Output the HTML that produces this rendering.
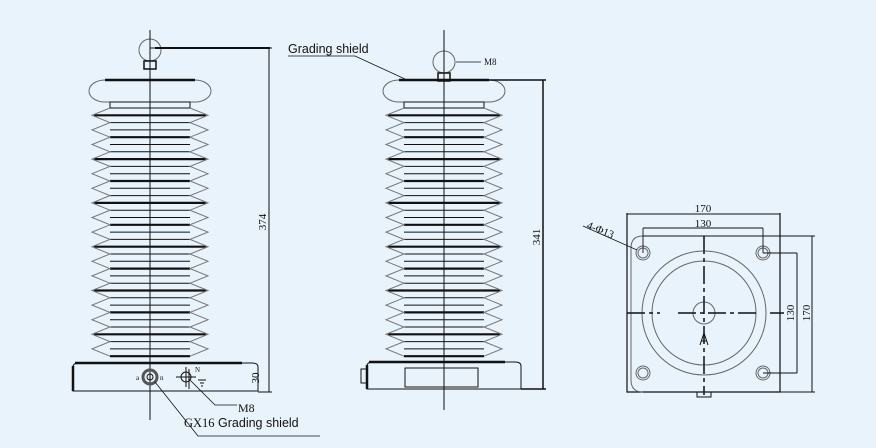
<!DOCTYPE html>
<html><head><meta charset="utf-8"><style>
html,body{margin:0;padding:0;background:#e9f3fc;}
svg{display:block;}
text{font-family:"Liberation Sans",sans-serif;fill:#111;}
.s{font-family:"Liberation Serif",serif;}
</style></head><body>
<svg id="d" width="876" height="448" viewBox="0 0 876 448" xmlns="http://www.w3.org/2000/svg">
<rect width="876" height="448" fill="#e9f3fc"/>
<g id="ins" fill="none" stroke="#111" stroke-width="1"></g>
<g fill="none" stroke="#111">
<path d="M150 48H272M269 48V392M258 392H272M150 30V420M444 30V410"/>
<path d="M443 80H546M543 80V389M521 389H546" stroke-width="1.5"/>
<path d="M155 48H270" stroke-width="2"/>
</g>
<text transform="translate(266,222) rotate(-90)" font-size="11" class="s" text-anchor="middle">374</text>
<text transform="translate(259,378) rotate(-90)" font-size="11" class="s" text-anchor="middle">30</text>
<text transform="translate(540,237) rotate(-90)" font-size="11" class="s" text-anchor="middle">341</text>
<text x="288" y="53" font-size="12.5">Grading shield</text>
<path d="M288 56H355L405 79" fill="none" stroke="#111" stroke-width="0.8"/>
<path d="M456 62H481" stroke="#111" stroke-width="0.8"/>
<text x="484" y="65" font-size="9" class="s">M8</text>
<g fill="none" stroke="#111">
<circle cx="150" cy="377" r="7" stroke-width="3" stroke="#555"/>
<circle cx="150" cy="377" r="3"/>
<circle cx="186" cy="377" r="5"/>
<path d="M176 377H196M186 367V387M189 369V389" />
<path d="M155 382L198 436H320M190 380L215 405H237" stroke-width="0.8"/>
<path d="M198 380H206M200 383H204M201 386H203"/>
</g>
<text x="136" y="380" font-size="7" class="s">a</text>
<text x="160" y="380" font-size="7" class="s">n</text>
<text x="195" y="372" font-size="7" class="s">N</text>
<text x="238" y="412" font-size="12" class="s">M8</text>
<text x="184" y="427" font-size="12.5"><tspan class="s">GX16</tspan> Grading shield</text>
<g fill="none" stroke="#111">
<rect x="405" y="368" width="73" height="19"/>
<rect x="361" y="369" width="6" height="14"/>
</g>
<g fill="none" stroke="#111">
<path d="M627 213V392H780V213" stroke-width="1.2"/>
<path d="M643 236H780M780 236V392" />
<path d="M643 236Q631 236 631 248V380Q631 392 643 392" stroke="#666"/>
<circle cx="704" cy="313" r="62" stroke="#666"/>
<circle cx="704" cy="313" r="52" stroke="#666"/>
<circle cx="704" cy="313" r="11" stroke="#666"/>
<g stroke="#666">
<circle cx="643" cy="253" r="7"/><circle cx="643" cy="253" r="5"/>
<circle cx="763" cy="253" r="7"/><circle cx="763" cy="253" r="5"/>
<circle cx="643" cy="373" r="7"/><circle cx="643" cy="373" r="5"/>
<circle cx="763" cy="373" r="7"/><circle cx="763" cy="373" r="5"/>
</g>
<path d="M704 236V395M627 313H660M678 313H760M770 313H784" stroke-width="1.5" stroke-dasharray="18 4 4 4"/>
<path d="M627 214H780M643 228H763M643 228V253M763 228V253" stroke-width="0.9"/>
<path d="M763 253H797M763 373H797M797 253V373M780 236H815M780 392H815M812 236V392"/>
<path d="M697 392V397H711V392"/>
<path d="M700 345L704 333L708 345M701 341H707"/>
<path d="M583 226L637 250" stroke-width="0.8"/>
</g>
<text x="703" y="212" font-size="11" class="s" text-anchor="middle">170</text>
<text x="703" y="227" font-size="11" class="s" text-anchor="middle">130</text>
<text transform="translate(794,313) rotate(-90)" font-size="11" class="s" text-anchor="middle">130</text>
<text transform="translate(810,313) rotate(-90)" font-size="11" class="s" text-anchor="middle">170</text>
<text transform="translate(586,228) rotate(22)" font-size="11" class="s">4-Φ13</text>
</svg>
<script>
var g=document.getElementById('ins');var h='';
function ins(cx,ballY,baseL,baseR,baseT,baseB){
 h+='<circle cx="'+cx+'" cy="'+ballY+'" r="11" stroke="#666"/>';
 h+='<rect x="'+(cx-6)+'" y="'+(ballY+11)+'" width="12" height="8" stroke-width="1.5"/>';
 h+='<path d="M'+(cx-45)+' 80H'+(cx+45)+'A16 11 0 0 1 '+(cx+45)+' 102H'+(cx-45)+'A16 11 0 0 1 '+(cx-45)+' 80Z" stroke="#666"/>';
 h+='<path d="M'+(cx-45)+' 80H'+(cx+45)+'" stroke-width="2.5"/>';
 h+='<rect x="'+(cx-40)+'" y="102" width="80" height="6"/>';
 var y=108,p=14.6,L='M'+(cx-40)+' '+y,R='M'+(cx+40)+' '+y,i=0;
 while(y+p<=364){
  L+=' L'+(cx-58)+' '+(y+p/2)+' L'+(cx-40)+' '+(y+p);
  R+=' L'+(cx+58)+' '+(y+p/2)+' L'+(cx+40)+' '+(y+p);
  var t1=((2*i)%3==0), t2=((2*i+1)%3==0);
  h+='<path d="M'+(cx-(t1?56:40))+' '+(y+p/2)+'H'+(cx+(t1?56:40))+'" stroke-width="'+(t1?2.2:1)+'"/>';
  h+='<path d="M'+(cx-40)+' '+(y+p)+'H'+(cx+40)+'" stroke-width="'+(t2?2.2:1)+'"/>';
  y+=p;i++;
 }
 h+='<path d="'+L+'" stroke="#777"/><path d="'+R+'" stroke="#777"/>';
 h+='<path d="M'+baseL+' '+baseB+'V'+(baseT+4)+'Q'+baseL+' '+baseT+' '+(baseL+6)+' '+baseT+'H'+(baseR-6)+'Q'+baseR+' '+baseT+' '+baseR+' '+(baseT+4)+'V'+baseB+'Z"/>';
 h+='<path d="M'+(baseL+2)+' '+baseT+'H'+(baseR-16)+'" stroke-width="2.5"/>';
 h+='<path d="M'+baseL+' '+(baseT+3)+'V'+baseB+'" stroke-width="2.5"/>';
}
ins(150,50,73,258,363,391);
ins(444,62,367,521,362,389);
g.innerHTML=h;
</script>
</body></html>
